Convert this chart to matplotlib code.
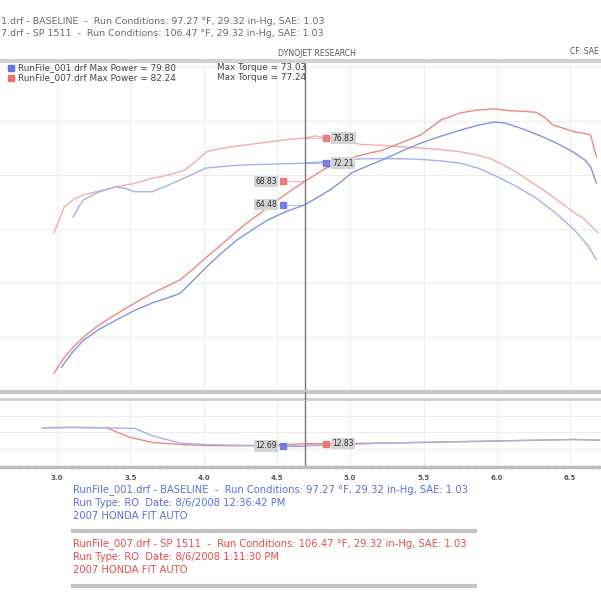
import matplotlib
matplotlib.use("Agg")
import matplotlib.pyplot as plt
import numpy as np
from matplotlib.ticker import MultipleLocator
from matplotlib.lines import Line2D

# dyno sheet, engine speed in rpm x1000
# run 001 (baseline, blue) and run 007 (SP 1511, red)
rpm_tq_red = [2.98, 3.05, 3.12, 3.18, 3.28, 3.40, 3.52, 3.65, 3.76, 3.87, 3.95, 4.02, 4.10, 4.18,
              4.30, 4.44, 4.58, 4.69, 4.76, 4.83, 4.96, 5.09, 5.22, 5.35, 5.48, 5.62, 5.75, 5.85,
              5.95, 6.05, 6.14, 6.23, 6.32, 6.42, 6.53, 6.60, 6.65, 6.69]
tq_red = [59.3, 64.1, 65.6, 66.3, 67.0, 67.8, 68.4, 69.4, 70.0, 70.9, 72.6, 74.3, 74.8, 75.2,
          75.6, 76.1, 76.6, 76.83, 77.24, 76.9, 76.2, 75.6, 75.5, 75.2, 75.0, 74.7, 74.3, 73.8,
          73.1, 71.8, 70.4, 68.8, 67.2, 65.2, 63.0, 61.8, 60.4, 59.3]

rpm_tq_blue = [3.11, 3.15, 3.18, 3.28, 3.40, 3.47, 3.53, 3.65, 3.75, 3.84, 3.93, 4.02, 4.18, 4.30,
               4.44, 4.58, 4.69, 4.83, 4.96, 5.09, 5.22, 5.35, 5.48, 5.62, 5.75, 5.88, 6.01, 6.14,
               6.27, 6.40, 6.53, 6.62, 6.68]
tq_blue = [62.2, 64.2, 65.4, 66.8, 67.8, 67.5, 66.9, 66.9, 68.0, 69.1, 70.2, 71.3, 71.7, 71.9,
           72.0, 72.1, 72.21, 72.5, 72.8, 73.0, 73.03, 73.0, 72.9, 72.6, 72.2, 71.2, 69.6, 67.8,
           65.7, 63.0, 59.8, 57.0, 54.3]

rpm_hp_red = [2.98, 3.04, 3.11, 3.19, 3.27, 3.36, 3.45, 3.55, 3.65, 3.75, 3.84, 3.93, 4.02, 4.10,
              4.18, 4.28, 4.39, 4.50, 4.60, 4.69, 4.83, 4.96, 5.09, 5.22, 5.35, 5.48, 5.55, 5.62,
              5.75, 5.86, 5.98, 6.09, 6.18, 6.27, 6.33, 6.38, 6.46, 6.53, 6.60, 6.64, 6.68]
hp_red = [33.3, 35.9, 38.1, 40.2, 41.9, 43.5, 45.0, 46.6, 48.1, 49.4, 50.6, 52.6, 54.8, 56.6,
          58.5, 60.8, 63.0, 65.3, 67.2, 68.83, 71.2, 72.8, 73.8, 74.6, 76.0, 77.4, 78.8, 80.2,
          81.5, 82.0, 82.24, 81.9, 81.8, 81.6, 80.6, 79.3, 78.6, 78.0, 77.7, 77.4, 73.3]

rpm_hp_blue = [3.03, 3.10, 3.18, 3.28, 3.40, 3.52, 3.65, 3.75, 3.84, 3.93, 4.02, 4.12, 4.23, 4.34,
               4.44, 4.56, 4.69, 4.78, 4.86, 4.94, 5.01, 5.12, 5.22, 5.35, 5.48, 5.62, 5.75, 5.87,
               5.98, 6.06, 6.18, 6.32, 6.43, 6.53, 6.60, 6.64, 6.68]
hp_blue = [34.4, 37.0, 39.4, 41.3, 43.1, 44.8, 46.3, 47.2, 48.1, 50.5, 53.0, 55.5, 58.0, 60.0,
           61.7, 63.2, 64.48, 65.9, 67.2, 68.8, 70.4, 71.7, 72.8, 74.4, 75.9, 77.2, 78.3, 79.2,
           79.8, 79.6, 78.5, 77.0, 75.6, 74.1, 72.8, 71.5, 68.5]

rpm_afr_red = [2.90, 3.10, 3.34, 3.40, 3.50, 3.65, 3.84, 4.00, 4.18, 4.40, 4.54, 4.69, 4.90,
               5.22, 5.50, 5.89, 6.20, 6.53, 6.70]
afr_red = [13.78, 13.80, 13.78, 13.55, 13.20, 12.90, 12.78, 12.72, 12.70, 12.72, 12.76, 12.83,
           12.84, 12.86, 12.90, 12.96, 13.02, 13.08, 13.04]
rpm_afr_blue = [2.90, 3.10, 3.34, 3.53, 3.65, 3.84, 4.00, 4.18, 4.40, 4.69, 4.90, 5.22, 5.60,
                6.01, 6.30, 6.53, 6.70]
afr_blue = [13.78, 13.80, 13.78, 13.74, 13.30, 12.86, 12.78, 12.74, 12.70, 12.69, 12.75, 12.86,
            12.93, 13.00, 13.04, 13.08, 13.03]

cursor = 4.69
ticks = [3.0, 3.5, 4.0, 4.5, 5.0, 5.5, 6.0, 6.5]

BLUE_HP = '#8292ea'
RED_HP = '#f08686'
BLUE_TQ = '#a6b2ee'
RED_TQ = '#f4acac'
BLUE_TXT = '#5b6fe4'
RED_TXT = '#f04a4a'

W = H = 601
fig = plt.figure(figsize=(6.01, 6.01), dpi=100)


def fx(x):
    return x / W


def fy(y):
    return 1 - y / H


ax = fig.add_axes([0, fy(392), 1, (392 - 61) / H])
ax2 = fig.add_axes([0, fy(467), 1, (467 - 399) / H])

xlim = (3.0 - 57 / 146.6, 3.0 + 544 / 146.6)
for a in (ax, ax2):
    a.set_xlim(*xlim)
    a.xaxis.set_major_locator(MultipleLocator(0.5))
    a.spines['left'].set_visible(False)
    a.spines['right'].set_visible(False)
    a.tick_params(axis='y', left=False, labelleft=False)
    a.grid(True, color='#ededed', lw=0.8)
    a.set_axisbelow(True)

# main panel: power and torque
ax.set_ylim(80 - (392 - 121) / 5.4, 80 + (121 - 61) / 5.4)
ax.yaxis.set_major_locator(MultipleLocator(10))
ax.tick_params(axis='x', bottom=False, labelbottom=False)
ax.spines['top'].set_color('#d2d2d2')
ax.spines['top'].set_linewidth(3)
ax.spines['bottom'].set_color('#c6c6c6')
ax.spines['bottom'].set_linewidth(3)

ax.plot(rpm_tq_red, tq_red, color=RED_TQ, lw=1)
ax.plot(rpm_tq_blue, tq_blue, color=BLUE_TQ, lw=1)
ax.plot(rpm_hp_red, hp_red, color=RED_HP, lw=1)
ax.plot(rpm_hp_blue, hp_blue, color=BLUE_HP, lw=1)
ax.axvline(cursor, color='#777777', lw=1)

# cursor readouts
def readout(a, xs, ys, side, col, fs=5.5):
    v = np.interp(cursor, xs, ys)
    mx = cursor + side * 0.145
    a.plot([cursor, mx], [v, v], color=col, lw=0.8, alpha=0.5)
    a.plot(mx, v, 's', ms=4, mfc=col, mec=col, alpha=0.9)
    a.text(mx + side * 0.045, v, f'{v:.2f}', fontsize=fs, color='#333333',
           ha='left' if side > 0 else 'right', va='center',
           bbox=dict(boxstyle='square,pad=0.15', fc='#d4d4d4', ec='none'))

readout(ax, rpm_tq_red, tq_red, 1, '#f07070')
readout(ax, rpm_tq_blue, tq_blue, 1, '#6678e0')
readout(ax, rpm_hp_red, hp_red, -1, '#f07070')
readout(ax, rpm_hp_blue, hp_blue, -1, '#6678e0')

# lower panel: air/fuel
k2 = 17.5
ax2.set_ylim(12.69 - (467 - 445) / k2, 12.69 + (445 - 399) / k2)
ax2.set_yticks(np.arange(11.5, 15.6, 1.0))
ax2.spines['top'].set_color('#cfcfcf')
ax2.spines['top'].set_linewidth(2)
ax2.spines['bottom'].set_color('#bdbdbd')
ax2.spines['bottom'].set_linewidth(2.5)
ax2.xaxis.set_minor_locator(MultipleLocator(0.05))
ax2.tick_params(axis='x', which='major', length=0, pad=6, labelsize=5, labelcolor='#555555')
ax2.tick_params(axis='x', which='minor', length=3, width=0.6, color='#aaaaaa', direction='inout')
ax2.set_xticks(ticks)
ax2.set_xticklabels([f'{t:.1f}' for t in ticks], fontweight='bold')

ax2.plot(rpm_afr_red, afr_red, color=RED_HP, lw=1)
ax2.plot(rpm_afr_blue, afr_blue, color=BLUE_TQ, lw=1)
ax2.axvline(cursor, color='#777777', lw=1)
readout(ax2, rpm_afr_blue, afr_blue, -1, '#6678e0')
readout(ax2, rpm_afr_red, afr_red, 1, '#f07070')

# cursor through the gap between panels
cx = fx(57 + (cursor - 3.0) * 146.6)
fig.add_artist(Line2D([cx, cx], [fy(399), fy(392)], color='#777777', lw=1))

# header lines (the sheet is cropped at the left edge)
hdr = dict(fontsize=6.8, color='#6a6a6a', va='center', ha='left')
fig.text(fx(1), fy(21), '1.drf - BASELINE  -  Run Conditions: 97.27 °F, 29.32 in-Hg, SAE: 1.03', **hdr)
fig.text(fx(1), fy(34), '7.drf - SP 1511  -  Run Conditions: 106.47 °F, 29.32 in-Hg, SAE: 1.03', **hdr)
fig.text(fx(317), fy(54), 'DYNOJET RESEARCH', fontsize=5.6, color='#555555', ha='center', va='center')
fig.text(fx(599), fy(51), 'CF: SAE', fontsize=5.5, color='#555555', ha='right', va='center')

# legend rows
for yy, col, name, hp, tq in [(68, '#6678e0', 'RunFile_001.drf', hp_blue, tq_blue),
                              (78, '#f07070', 'RunFile_007.drf', hp_red, tq_red)]:
    fig.add_artist(Line2D([fx(11)], [fy(yy)], marker='s', ms=4, color=col))
    fig.text(fx(18), fy(yy), f'{name} Max Power = {max(hp):.2f}', fontsize=6.4,
             color='#444444', va='center')
    fig.text(fx(217), fy(yy), f'Max Torque = {max(tq):.2f}', fontsize=6.4,
             color='#444444', va='center')

# run info block
info = [(490, BLUE_TXT, 'RunFile_001.drf - BASELINE  -  Run Conditions: 97.27 °F, 29.32 in-Hg, SAE: 1.03'),
        (503, BLUE_TXT, 'Run Type: RO  Date: 8/6/2008 12:36:42 PM'),
        (516, BLUE_TXT, '2007 HONDA FIT AUTO'),
        (544, RED_TXT, 'RunFile_007.drf - SP 1511  -  Run Conditions: 106.47 °F, 29.32 in-Hg, SAE: 1.03'),
        (557, RED_TXT, 'Run Type: RO  Date: 8/6/2008 1:11:30 PM'),
        (570, RED_TXT, '2007 HONDA FIT AUTO')]
for yy, col, s in info:
    fig.text(fx(73), fy(yy), s, fontsize=7.2, color=col, va='center', ha='left')
for yy in (531, 586):
    fig.add_artist(Line2D([fx(73), fx(475)], [fy(yy), fy(yy)], color='#c4c4c4', lw=3))

fig.savefig('out.png', dpi=100)
